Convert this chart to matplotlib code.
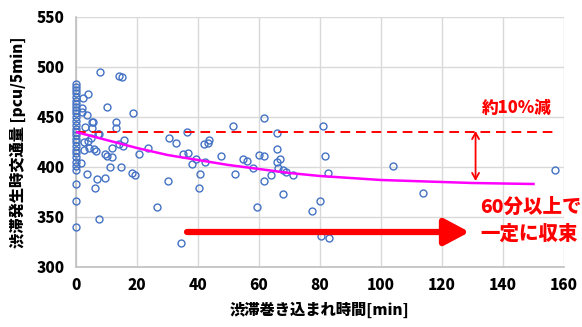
import numpy as np
import matplotlib
matplotlib.use('Agg')
import matplotlib.pyplot as plt

plt.rcParams['font.family'] = ['Noto Sans CJK JP', 'DejaVu Sans']

### Data
# observations at x = 0
y_zero = [483, 480, 477, 474, 470, 466, 463, 460, 457, 454, 450, 446, 442, 438,
          435, 432, 428, 425, 421, 417, 414, 410, 405, 401, 397, 383, 366, 340]
x_pts = [2.3, 4.0, 7.9, 14.0, 15.0, 10.0, 18.7, 2.0, 2.0, 3.6, 5.2, 5.5, 13.0, 13.0,
         3.0, 5.3, 7.5, 7.2, 2.6, 4.0, 5.0, 4.3, 2.6, 6.0, 6.5, 9.5, 10.2, 11.8,
         11.8, 14.0, 15.4, 15.7, 20.7, 1.6, 11.2, 14.8, 3.6, 9.5, 6.9, 18.4, 19.4,
         6.2, 7.5, 26.5, 34.4, 30.0, 40.3, 40.7, 23.6, 35.0, 36.7, 39.3, 38.0, 42.3,
         47.5, 54.8, 56.0, 58.0, 52.0, 59.3, 60.0, 61.6, 51.5, 36.4, 30.5, 32.8,
         43.7, 43.3, 42.0, 61.6, 66.0, 81.0, 66.0, 66.0, 67.0, 81.6, 66.3, 68.0,
         69.0, 71.0, 82.6, 64.0, 61.6, 68.0, 77.4, 80.0, 80.3, 83.0, 157.0, 104.0,
         113.8]
y_pts = [469, 473, 495, 491, 490, 460, 454, 459, 455, 452, 445, 445, 445, 439,
         440, 439, 433, 433, 425, 426, 429, 419, 417, 418, 416, 413, 411, 410,
         419, 423, 421, 427, 413, 404, 400, 400, 393, 389, 388, 394, 392,
         379, 348, 360, 324, 386, 379, 393, 419, 413, 414, 408, 403, 405,
         411, 408, 406, 399, 393, 360, 412, 411, 441, 435, 429, 424,
         427, 424, 423, 449, 434, 441, 418, 405, 408, 411, 399, 397,
         395, 392, 394, 392, 386, 373, 356, 366, 331, 329, 397, 401,
         374]

# trend curve (magenta)
x_trend = [0, 5, 10, 20, 30, 40, 50, 60, 70, 80, 90, 100, 110, 120, 130, 140, 150]
y_trend = [435, 431, 427, 419, 412, 407, 402, 398, 394, 391, 389, 387, 386, 385, 384, 383.5, 383]

y_base = 435          # dashed reference level
x_ticks = [0, 20, 40, 60, 80, 100, 120, 140, 160]
y_ticks = [300, 350, 400, 450, 500, 550]

### Plot
fig = plt.figure(figsize=(5.82, 3.27), dpi=100)
ax = fig.add_axes([0.1306, 0.1835, 0.8385, 0.7645])

ax.grid(True, color='#D9D9D9', lw=1.0, zorder=0)
for s in ['top', 'right']:
    ax.spines[s].set_visible(False)
for s in ['left', 'bottom']:
    ax.spines[s].set_color('#BFBFBF')
    ax.spines[s].set_linewidth(1.2)

ax.plot([0] * len(y_zero), y_zero, 'o', mfc='none', mec='#4472C4', ms=5, mew=1.0,
        clip_on=False, zorder=3)
ax.plot(x_pts, y_pts, 'o', mfc='none', mec='#4472C4', ms=5, mew=1.0,
        clip_on=False, zorder=3)

ax.plot([0, 158], [y_base, y_base], '--', color='#FF0000', lw=1.4, dashes=(5, 3), zorder=4)
ax.plot(x_trend, y_trend, '-', color='#FF00FF', lw=1.8, zorder=4)

# arrows
ax.annotate('', xy=(131, 386), xytext=(131, 436),
            arrowprops=dict(arrowstyle='<->,head_width=0.25,head_length=0.45',
                            color='#FF0000', lw=1.3, shrinkA=0, shrinkB=0), zorder=5)
ax.annotate('', xy=(129, 335), xytext=(36.4, 335),
            arrowprops=dict(arrowstyle='-|>,head_width=0.4,head_length=0.75',
                            color='#FF0000', lw=4.5, shrinkA=0, shrinkB=0,
                            mutation_scale=20), zorder=5)

ax.text(144.6, 459, '約10%減', color='#FF0000', fontsize=12, fontweight='black',
        ha='center', va='center')
ax.text(132.5, 360, '60分以上で', color='#FF0000', fontsize=14, fontweight='black',
        ha='left', va='center', clip_on=False)
ax.text(132.5, 333, '一定に収束', color='#FF0000', fontsize=14, fontweight='black',
        ha='left', va='center', clip_on=False)

ax.set_xlim(0, 160)
ax.set_ylim(300, 550)
ax.set_xticks(x_ticks)
ax.set_yticks(y_ticks)
ax.tick_params(length=0, labelsize=11, pad=8)
for lab in ax.get_xticklabels() + ax.get_yticklabels():
    lab.set_fontweight('black')

ax.set_xlabel('渋滞巻き込まれ時間[min]', fontsize=11, fontweight='black', labelpad=6)
ax.set_ylabel('渋滞発生時交通量 [pcu/5min]', fontsize=11, fontweight='black', labelpad=8)

plt.savefig('out.png', dpi=100)
